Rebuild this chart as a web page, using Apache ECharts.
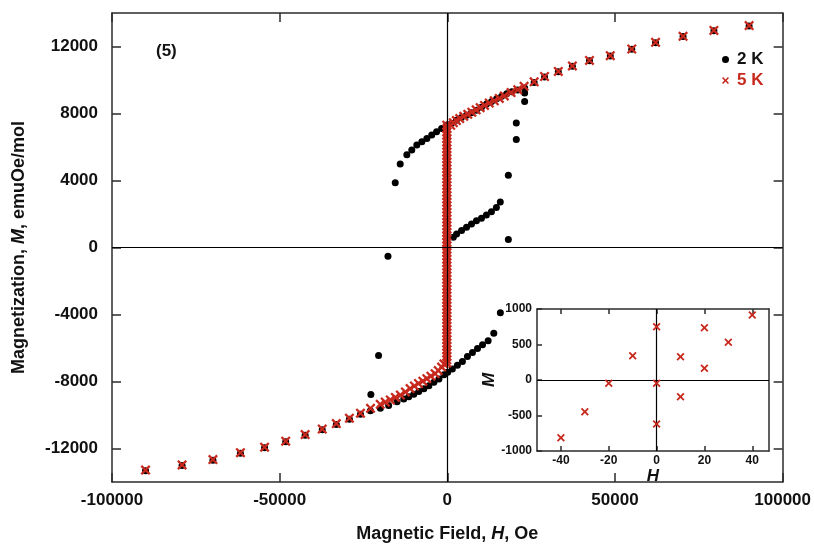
<!DOCTYPE html>
<html><head><meta charset="utf-8">
<script src="https://cdn.jsdelivr.net/npm/echarts@6/dist/echarts.min.js"></script>
<style>html,body{margin:0;padding:0;background:#fff}#c{width:814px;height:548px}</style>
</head><body><div id="c"></div>
<script>
// ---- 5 K data (red crosses) ----
const h5KPos = [1000, 1800, 2700, 3700, 4900, 6100, 7300, 8600, 9800, 11100, 12500, 14000, 15500, 17000, 19000, 21000, 22900, 25900, 29000, 33100, 37300, 42400, 48600, 55000, 62100, 70300, 79500, 90000];
const m5KPos = [7300, 7450, 7580, 7700, 7830, 7950, 8080, 8220, 8350, 8480, 8620, 8760, 8900, 9050, 9250, 9420, 9620, 9890, 10210, 10510, 10840, 11170, 11450, 11850, 12250, 12610, 12960, 13250];
const h5KNeg = [-1000, -1700, -2700, -3650, -4900, -6100, -7300, -8600, -9800, -11100, -12500, -14000, -15500, -17000, -18500, -20000, -22900, -25900, -29200, -33100, -37300, -42400, -48200, -54500, -61700, -69900, -79100, -90000];
const m5KNeg = [-6950, -7140, -7350, -7530, -7680, -7830, -7980, -8120, -8270, -8420, -8620, -8810, -8950, -9100, -9230, -9360, -9600, -9890, -10190, -10510, -10840, -11170, -11560, -11920, -12250, -12660, -12980, -13290];
const bandH5K = -150;
const bandM5K = [-6900, -6700, -6500, -6300, -6100, -5900, -5700, -5500, -5300, -5100, -4900, -4700, -4500, -4300, -4100, -3900, -3700, -3500, -3300, -3100, -2900, -2700, -2500, -2300, -2100, -1900, -1700, -1500, -1300, -1100, -900, -700, -500, -300, -100, 100, 300, 500, 700, 900, 1100, 1300, 1500, 1700, 1900, 2100, 2300, 2500, 2700, 2900, 3100, 3300, 3500, 3700, 3900, 4100, 4300, 4500, 4700, 4900, 5100, 5300, 5500, 5700, 5900, 6100, 6300, 6500, 6700, 6900, 7100, 7300];

// ---- 2 K data (black dots) ----
const h2KUpperL = [-15530, -14050, -12070, -10600, -9100, -7600, -6100, -4650, -3200, -1700, -200];
const m2KUpperL = [3860, 4980, 5530, 5820, 6120, 6320, 6510, 6710, 6910, 7100, 7300];
const h2KUpperR = [1200, 2700, 4200, 5700, 7200, 8700, 10200, 11700, 13200, 14700, 16200, 17700, 19200, 21000, 23060, 25900, 29000, 33100, 37300, 42400, 48600, 55000, 62100, 70300, 79500, 90000];
const m2KUpperR = [7400, 7600, 7760, 7900, 8050, 8200, 8380, 8560, 8720, 8880, 9030, 9180, 9300, 9400, 9520, 9850, 10180, 10490, 10820, 11150, 11430, 11830, 12230, 12590, 12940, 13230];
const h2KJumpR = [18200, 18200, 20570, 20570, 23060, 23060];
const m2KJumpR = [483, 4315, 6455, 7440, 8713, 9225];
const h2KMid = [1780, 2770, 4250, 5730, 7210, 8690, 10180, 11660, 13150, 14630, 15800];
const m2KMid = [619, 813, 1014, 1208, 1403, 1603, 1739, 1933, 2134, 2387, 2723];
const h2KLowR = [100, 1500, 3000, 4500, 6000, 7500, 9000, 10500, 12170, 13860, 15820];
const m2KLowR = [-7450, -7250, -7030, -6800, -6500, -6270, -6030, -5800, -5570, -5120, -3900];
const h2KLowL = [-1000, -2500, -4000, -5500, -7000, -8500, -10000, -11500, -13000, -15000, -17500, -19970, -22940, -25900, -29200, -33100, -37300, -42400, -48200, -54500, -61700, -69900, -79100, -90000];
const m2KLowL = [-7600, -7850, -8050, -8250, -8430, -8600, -8760, -8910, -9050, -9210, -9440, -9600, -9750, -9950, -10250, -10560, -10880, -11210, -11600, -11960, -12290, -12700, -13020, -13330];
const h2KJumpL = [-17700, -20500, -22800];
const m2KJumpL = [-520, -6455, -8770];

// ---- inset (5 K, low field) ----
const insetH = [-40, -30, -20, -10, 0, 0, 0, 10, 10, 20, 20, 30, 40];
const insetM = [-813, -446, -46, 342, 751, -46, -620, 328, -235, 737, 165, 531, 915];

// ---- ticks ----
const yTicksMain = [-12000, -8000, -4000, 0, 4000, 8000, 12000];
const xTicksInset = [-40, -20, 0, 20, 40];

const RED = '#c8291e';
const FONT = 'Liberation Sans, Arial, Helvetica, sans-serif';
const XSYM = 'path://M1.6,0 L5,3.4 L8.4,0 L10,1.6 L6.6,5 L10,8.4 L8.4,10 L5,6.6 L1.6,10 L0,8.4 L3.4,5 L0,1.6 Z';

function pairs(hs, ms) { return hs.map((h, i) => [h, ms[i]]); }

const data5K = [].concat(
  bandM5K.map(m => [bandH5K, m]),
  pairs(h5KPos, m5KPos),
  pairs(h5KNeg, m5KNeg)
);
const data2K = [].concat(
  pairs(h2KUpperL, m2KUpperL), pairs(h2KUpperR, m2KUpperR), pairs(h2KJumpR, m2KJumpR),
  pairs(h2KMid, m2KMid), pairs(h2KLowR, m2KLowR), pairs(h2KLowL, m2KLowL), pairs(h2KJumpL, m2KJumpL)
);
const dataInset = pairs(insetH, insetM);

const axisLineStyle = { color: '#2b2b2b', width: 1.5 };
const lblStyle = { fontFamily: FONT, fontWeight: 'bold', fontSize: 17, color: '#111' };

const chart = echarts.init(document.getElementById('c'), null, { renderer: 'canvas' });
chart.setOption({
  animation: false,
  backgroundColor: '#fff',
  title: { text: '(5)', left: 151, top: 38, textStyle: { fontFamily: FONT, fontWeight: 'bold', fontSize: 17, color: '#111' } },
  legend: {
    orient: 'vertical', left: 717, top: 46, itemGap: 4, itemWidth: 7, itemHeight: 7,
    textStyle: { fontFamily: FONT, fontWeight: 'bold', fontSize: 17, padding: [0, 0, 0, 3] },
    data: [
      { name: '2 K', icon: 'circle', itemStyle: { color: '#000' }, textStyle: { color: '#111' } },
      { name: '5 K', icon: XSYM, itemStyle: { color: RED }, textStyle: { color: RED } }
    ]
  },
  grid: [
    { left: 112, right: 28, top: 13, bottom: 60 },
    { left: 537, top: 309, width: 232, height: 142, show: true, backgroundColor: '#fff', borderWidth: 0 }
  ],
  xAxis: [
    { gridIndex: 0, type: 'value', min: -100000, max: 100000, interval: 50000,
      axisLine: { onZero: false, lineStyle: axisLineStyle },
      axisTick: { inside: true, length: 9, lineStyle: axisLineStyle },
      axisLabel: Object.assign({ margin: 10, showMinLabel: true, showMaxLabel: true, hideOverlap: false, formatter: v => String(v) }, lblStyle),
      splitLine: { show: false },
      name: 'Magnetic Field, {i|H}, Oe', nameLocation: 'middle', nameGap: 43,
      nameTextStyle: { fontFamily: FONT, fontWeight: 'bold', fontSize: 18, color: '#111',
        rich: { i: { fontFamily: FONT, fontWeight: 'bold', fontStyle: 'italic', fontSize: 18, color: '#111' } } }
    },
    { gridIndex: 0, type: 'value', position: 'top', min: -100000, max: 100000, interval: 50000,
      axisLine: { onZero: false, lineStyle: axisLineStyle },
      axisTick: { inside: true, length: 9, lineStyle: axisLineStyle },
      axisLabel: { show: false }, splitLine: { show: false } },
    { gridIndex: 1, type: 'value', min: -50, max: 47,
      axisLine: { onZero: false, lineStyle: axisLineStyle },
      axisTick: { inside: true, length: 5, lineStyle: axisLineStyle, customValues: xTicksInset },
      axisLabel: { customValues: xTicksInset, margin: 4, fontFamily: FONT, fontWeight: 'bold', fontSize: 12, color: '#111', formatter: v => String(v) },
      splitLine: { show: false },
      name: 'H', nameLocation: 'middle', nameGap: 12,
      nameTextStyle: { fontFamily: FONT, fontWeight: 'bold', fontStyle: 'italic', fontSize: 17, color: '#111' }
    },
    { gridIndex: 1, type: 'value', position: 'top', min: -50, max: 47,
      axisLine: { onZero: false, lineStyle: axisLineStyle },
      axisTick: { inside: true, length: 5, lineStyle: axisLineStyle, customValues: xTicksInset },
      axisLabel: { show: false }, splitLine: { show: false } }
  ],
  yAxis: [
    { gridIndex: 0, type: 'value', min: -14000, max: 14000,
      axisLine: { onZero: false, lineStyle: axisLineStyle },
      axisTick: { inside: true, length: 9, lineStyle: axisLineStyle, customValues: yTicksMain },
      axisLabel: Object.assign({ margin: 14, customValues: yTicksMain, formatter: v => String(v) }, lblStyle),
      splitLine: { show: false },
      name: 'Magnetization, {i|M}, emuOe/mol', nameLocation: 'middle', nameGap: 84,
      nameTextStyle: { fontFamily: FONT, fontWeight: 'bold', fontSize: 18, color: '#111',
        rich: { i: { fontFamily: FONT, fontWeight: 'bold', fontStyle: 'italic', fontSize: 18, color: '#111' } } }
    },
    { gridIndex: 0, type: 'value', position: 'right', min: -14000, max: 14000,
      axisLine: { onZero: false, lineStyle: axisLineStyle },
      axisTick: { inside: true, length: 9, lineStyle: axisLineStyle, customValues: yTicksMain },
      axisLabel: { show: false }, splitLine: { show: false } },
    { gridIndex: 1, type: 'value', min: -1000, max: 1000, interval: 500,
      axisLine: { onZero: false, lineStyle: axisLineStyle },
      axisTick: { inside: true, length: 5, lineStyle: axisLineStyle },
      axisLabel: { margin: 5, fontFamily: FONT, fontWeight: 'bold', fontSize: 12, color: '#111', formatter: v => String(v) },
      splitLine: { show: false },
      name: 'M', nameLocation: 'middle', nameGap: 22,
      nameTextStyle: { fontFamily: FONT, fontWeight: 'bold', fontStyle: 'italic', fontSize: 17, color: '#111' }
    },
    { gridIndex: 1, type: 'value', position: 'right', min: -1000, max: 1000, interval: 500,
      axisLine: { onZero: false, lineStyle: axisLineStyle },
      axisTick: { show: false }, axisLabel: { show: false }, splitLine: { show: false } }
  ],
  series: [
    { name: '2 K', type: 'scatter', xAxisIndex: 0, yAxisIndex: 0, data: data2K,
      symbol: 'circle', symbolSize: 7, itemStyle: { color: '#000', opacity: 1 }, z: 2 },
    { name: '5 K', type: 'scatter', xAxisIndex: 0, yAxisIndex: 0, data: data5K,
      symbol: XSYM, symbolSize: 10, itemStyle: { color: RED, opacity: 1 }, z: 3 },
    { name: 'zero-main', type: 'scatter', xAxisIndex: 0, yAxisIndex: 0, data: [], z: 5,
      markLine: { silent: true, symbol: 'none', label: { show: false }, animation: false,
        lineStyle: { color: '#000', width: 1.2, type: 'solid' },
        data: [{ xAxis: 0 }, { yAxis: 0 }] } },
    { name: '5 K inset', type: 'scatter', xAxisIndex: 2, yAxisIndex: 2, data: dataInset,
      symbol: XSYM, symbolSize: 8, itemStyle: { color: RED, opacity: 1 }, z: 6,
      markLine: { silent: true, symbol: 'none', label: { show: false }, animation: false,
        lineStyle: { color: '#000', width: 1.2, type: 'solid' },
        data: [{ xAxis: 0 }, { yAxis: 0 }] } }
  ]
});
</script></body></html>
